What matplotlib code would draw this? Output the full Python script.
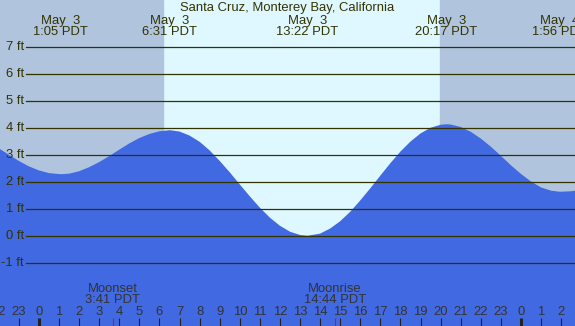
"""Tide chart for Santa Cruz, Monterey Bay on May 3."""

import matplotlib

matplotlib.use("Agg")
import matplotlib.pyplot as plt

TITLE = "Santa Cruz, Monterey Bay, California"

# tide height (ft), hours since May 3 00:00 PDT
HOURS = [-2, -1.5, -1, -0.5, 0, 0.5, 1.08, 1.5, 2, 2.5, 3, 3.5, 4, 4.5, 5, 5.5, 6,
         6.52, 7, 7.5, 8, 8.5, 9, 9.5, 10, 10.5, 11, 11.5, 12, 12.5, 13, 13.37,
         14, 14.5, 15, 15.5, 16, 16.5, 17, 17.5, 18, 18.5, 19, 19.5, 20, 20.28,
         20.5, 21, 21.5, 22, 22.5, 23, 23.5, 24, 24.5, 25, 25.5, 25.93, 26.5, 27]
HEIGHTS = [3.26, 3.02, 2.79, 2.59, 2.44, 2.34, 2.30, 2.32, 2.41, 2.56, 2.75, 2.97,
           3.21, 3.44, 3.64, 3.79, 3.89, 3.93, 3.88, 3.73, 3.50, 3.18, 2.79, 2.37,
           1.92, 1.48, 1.06, 0.69, 0.39, 0.17, 0.05, 0.02, 0.10, 0.29, 0.56, 0.91,
           1.33, 1.78, 2.25, 2.71, 3.14, 3.51, 3.81, 4.02, 4.13, 4.15, 4.14, 4.05,
           3.87, 3.62, 3.32, 2.98, 2.63, 2.31, 2.03, 1.81, 1.69, 1.65, 1.67, 1.72]

# high / low tide events shown along the top
EVENT_HOURS = [1.08, 6.52, 13.37, 20.28, 25.93]
EVENT_LABELS = ["May  3\n1:05 PDT", "May  3\n6:31 PDT", "May  3\n13:22 PDT",
                "May  3\n20:17 PDT", "May  4\n1:56 PDT"]

SUNRISE = 6.17
SUNSET = 19.97

MOON_HOURS = [3.68, 14.73]
MOON_LABELS = ["Moonset\n3:41 PDT", "Moonrise\n14:44 PDT"]

FEET = [-1, 0, 1, 2, 3, 4, 5, 6, 7]
TICK_HOURS = list(range(-2, 27))

X_MIN, X_MAX = -1.94, 26.69
Y_MIN, Y_MAX = -3.32, 8.75

NIGHT = "#b0c4de"
DAY = "#dff7ff"
WATER = "#4169e1"
INK = "#333300"
FONT_SIZE = 9.4


def main() -> None:
    plt.rcParams["font.family"] = ["Liberation Sans", "DejaVu Sans"]
    fig = plt.figure(figsize=(5.75, 3.26), dpi=100)
    ax = fig.add_axes([0, 0, 1, 1])
    ax.set_xlim(X_MIN, X_MAX)
    ax.set_ylim(Y_MIN, Y_MAX)
    ax.axis("off")

    # day / night background
    ax.axvspan(X_MIN, X_MAX, color=DAY, zorder=0)
    ax.axvspan(X_MIN, SUNRISE, color=NIGHT, zorder=0)
    ax.axvspan(SUNSET, X_MAX, color=NIGHT, zorder=0)

    ax.fill_between(HOURS, HEIGHTS, Y_MIN, color=WATER, lw=0, zorder=1)

    for ft in FEET:
        ax.plot([-0.65, X_MAX], [ft, ft], color=INK, lw=0.9, zorder=2)
        ax.text(-0.75, ft, f"{ft} ft", ha="right", va="center", fontsize=FONT_SIZE,
                color=INK, zorder=3)

    ax.text(0.5, 0.994, TITLE, transform=ax.transAxes, ha="center", va="top",
            fontsize=FONT_SIZE, color=INK)
    xt = ax.get_xaxis_transform()
    for hour, label in zip(EVENT_HOURS, EVENT_LABELS):
        ax.text(hour, 0.954, label, transform=xt, ha="center", va="top",
                fontsize=FONT_SIZE, color=INK, linespacing=0.92)

    # hour ticks along the bottom
    for hour in TICK_HOURS:
        midnight = hour % 24 == 0
        ax.plot([hour, hour], [0, 0.025], transform=xt, color="#222222",
                lw=2.2 if midnight else 0.8, solid_capstyle="butt", zorder=3)
        ax.text(hour, 0.043, str(hour % 24), transform=xt, ha="center", va="center",
                fontsize=FONT_SIZE, color="#333333", zorder=3)

    for hour, label in zip(MOON_HOURS, MOON_LABELS):
        ax.plot([hour, hour], [0, 0.025], transform=xt, color="#ff0000", lw=0.8,
                solid_capstyle="butt", zorder=3)
        ax.text(hour, 0.097, label, transform=xt, ha="center", va="center",
                fontsize=FONT_SIZE, color="#333333", linespacing=0.92, zorder=3)

    fig.savefig("out.png", dpi=100)


if __name__ == "__main__":
    main()
